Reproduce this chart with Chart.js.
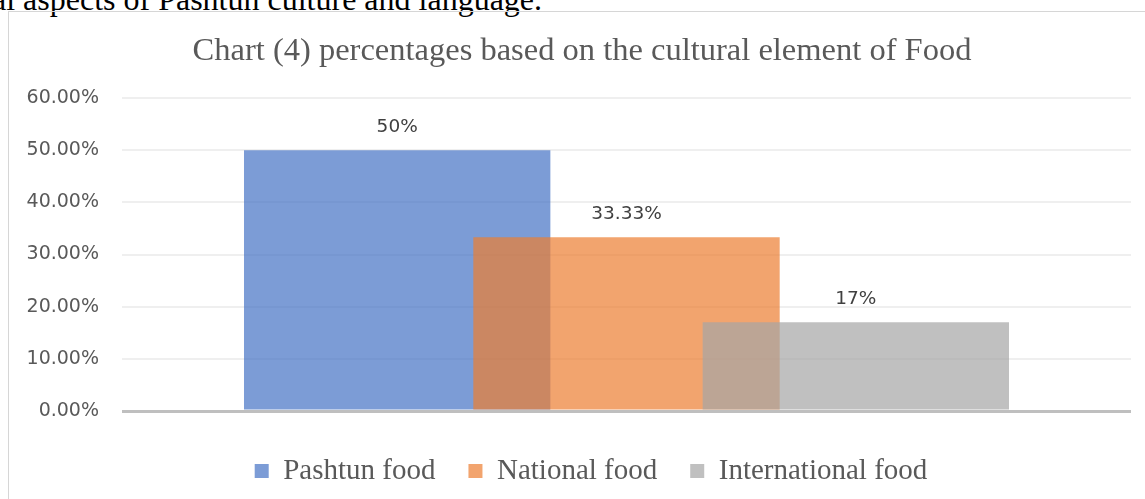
<!DOCTYPE html>
<html>
<head>
<meta charset="utf-8">
<script src="https://cdn.jsdelivr.net/npm/chart.js@4.4.1/dist/chart.umd.min.js"></script>
<style>
  html, body { margin: 0; padding: 0; background: #ffffff; width: 1145px; height: 499px; overflow: hidden; position: relative; }
  #topText { position: absolute; left: -8px; top: -17px; font-family: 'Liberation Serif', 'Times New Roman', serif; font-size: 32px; line-height: 32px; color: #000; white-space: nowrap; }
  #frame { position: absolute; left: 8px; top: 11px; width: 1200px; height: 600px; border-left: 1px solid #D6D6D6; border-top: 1px solid #D6D6D6; pointer-events: none; }
  #wrap { position: absolute; left: 9px; top: 12px; width: 1146px; height: 487px; }
</style>
</head>
<body>
<div id="topText">al aspects of Pashtun culture and language.</div>
<div id="frame"></div>
<div id="wrap"><canvas id="c" width="1146" height="487"></canvas></div>
<script>
const chartTitle = 'Chart (4) percentages based on the cultural element of Food';
const categories = ['Pashtun food', 'National food', 'International food'];
const values = [50, 33.33, 17];
const valueLabels = ['50%', '33.33%', '17%'];
const yTickLabels = ['0.00%', '10.00%', '20.00%', '30.00%', '40.00%', '50.00%', '60.00%'];
const colors = ['rgba(68,114,196,0.7)', 'rgba(237,125,49,0.7)', 'rgba(165,165,165,0.7)'];

const datasets = categories.map((name, i) => ({
  label: name,
  data: [{ x: i + 1, y: values[i] }],
  backgroundColor: colors[i],
  borderWidth: 0,
  grouped: false,
  barPercentage: 1.336,
  categoryPercentage: 1,
  order: categories.length - i
}));

const valueLabelPlugin = {
  id: 'valueLabels',
  afterDatasetsDraw(chart) {
    const ctx = chart.ctx;
    ctx.save();
    ctx.font = '18.5px "DejaVu Sans"';
    ctx.fillStyle = '#404040';
    ctx.textAlign = 'center';
    ctx.textBaseline = 'alphabetic';
    chart.data.datasets.forEach((ds, i) => {
      const el = chart.getDatasetMeta(i).data[0];
      if (el) ctx.fillText(valueLabels[i], el.x, el.y - 18);
    });
    ctx.restore();
  }
};

const legendShift = {
  id: 'legendShift',
  afterLayout(chart) {
    if (chart.legend) chart.legend.left += 18;
  }
};

new Chart(document.getElementById('c'), {
  type: 'bar',
  data: { datasets },
  plugins: [valueLabelPlugin, legendShift],
  options: {
    responsive: false,
    animation: false,
    layout: { padding: { left: 0, right: 0, top: 0, bottom: 3.5 } },
    plugins: {
      title: {
        display: true,
        text: chartTitle,
        color: '#595959',
        font: { family: "'Liberation Serif'", size: 32.5, weight: 'normal' },
        padding: { top: 19.5, bottom: 27.5 }
      },
      legend: {
        position: 'bottom',
        labels: {
          boxWidth: 14,
          boxHeight: 14,
          padding: 33,
          color: '#595959',
          font: { family: "'Liberation Serif'", size: 29 },
          sort: (a, b) => a.datasetIndex - b.datasetIndex
        }
      },
      tooltip: { enabled: false }
    },
    scales: {
      x: {
        type: 'linear',
        min: -0.2,
        max: 4.2,
        display: true,
        grid: { display: false },
        border: { display: false },
        ticks: { display: false },
        afterBuildTicks: (s) => { s.ticks = []; },
        afterFit: (s) => { s.height = 12.5; }
      },
      y: {
        min: 0,
        max: 60,
        ticks: {
          stepSize: 10,
          padding: 23,
          color: '#595959',
          font: { family: "'DejaVu Sans'", size: 19 },
          callback: (v, i) => yTickLabels[i]
        },
        grid: {
          drawTicks: false,
          color: (c) => c.tick && c.tick.value === 0 ? '#BFBFBF' : '#EFEFEF',
          lineWidth: (c) => c.tick && c.tick.value === 0 ? 3 : 2
        },
        border: { display: false },
        afterFit: (s) => { s.width = 113; }
      },
      yR: {
        type: 'linear',
        position: 'right',
        display: true,
        grid: { display: false },
        border: { display: false },
        ticks: { display: false },
        afterFit: (s) => { s.width = 24; }
      }
    }
  }
});
</script>
</body>
</html>
